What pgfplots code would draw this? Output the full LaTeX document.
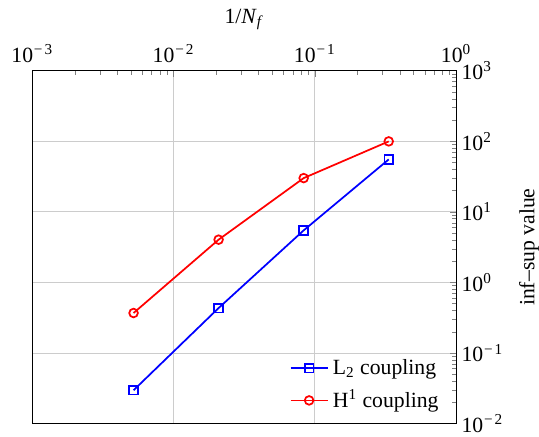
\documentclass[border=0pt]{standalone}
\usepackage{fontspec}
\setmainfont{Liberation Serif}
\usepackage{pgfplots}
\pgfplotsset{compat=1.18}
\newcommand\mneg{\kern0.4pt−\kern0.9pt}
\begin{document}
\begin{tikzpicture}
\begin{loglogaxis}[
  scale only axis,
  width=195.4pt, height=162.7pt,
  xmin=1e-3, xmax=1, ymin=1e-2, ymax=1e3,
  xtick pos=right, ytick pos=right,
  xticklabel pos=right, yticklabel pos=right,
  major tick length=2.9pt, minor tick length=1.9pt,
  xtick={0.001,0.01,0.1,1},
  xticklabels={10\textsuperscript{\mneg 3},10\textsuperscript{\mneg 2},10\textsuperscript{\mneg 1},10\textsuperscript{0}},
  ytick={0.01,0.1,1,10,100,1000},
  yticklabels={10\textsuperscript{\mneg 2},10\textsuperscript{\mneg 1},10\textsuperscript{0},10\textsuperscript{1},10\textsuperscript{2},10\textsuperscript{3}},
  yticklabel style={xshift=-1pt},
  xlabel={1/\textit{N}\textsubscript{\textit{f}}},
  ylabel={inf--sup value},
  ylabel style={yshift=-0.4pt},
  grid=major,
  major grid style={gray!40},
  legend style={at={(0.985,0.01)}, anchor=south east, draw=none, fill=none, row sep=1.75pt},
  legend cell align=left,
]
\addplot[blue, thick, mark=square, mark options={solid}] coordinates {
  (0.005208,0.0297) (0.02083,0.434) (0.08333,5.47) (0.3333,55.4)
};
\addlegendentry{L\textsubscript{2} coupling}
\addplot[red, thick, mark=o, mark options={solid}] coordinates {
  (0.005208,0.369) (0.02083,4.04) (0.08333,30.1) (0.3333,99.7)
};
\addlegendentry{H\textsuperscript{1} coupling}
\end{loglogaxis}
\pgfresetboundingbox
\path[use as bounding box] ([shift={(-14.9pt,-5.85pt)}]current axis.south west) rectangle ([shift={(38.2pt,32.6pt)}]current axis.north east);
\end{tikzpicture}
\end{document}
